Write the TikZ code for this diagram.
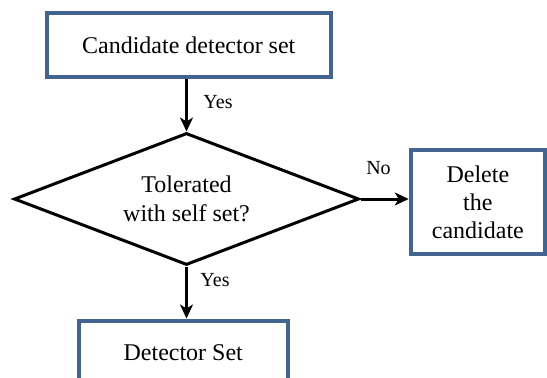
\documentclass[tikz,border=0pt]{standalone}
\usepackage{fontspec}
\setmainfont{Liberation Serif}
\usetikzlibrary{shapes.geometric,arrows.meta}
\definecolor{boxblue}{RGB}{65,100,145}
\begin{document}
\begin{tikzpicture}[x=1pt,y=-1pt,
  procbox/.style={draw=boxblue,line width=4pt,rectangle,inner sep=0pt,
    align=center,font=\fontsize{24}{28}\selectfont},
  decision/.style={draw=black,line width=3pt,diamond,aspect=2.6,inner sep=0pt,
    align=center,font=\fontsize{24}{29.5}\selectfont},
  flow/.style={draw=black,line width=3pt,-{Stealth[length=14pt,width=13pt,inset=4pt]}},
  lbl/.style={font=\fontsize{20}{24}\selectfont,inner sep=0pt}]
  \useasboundingbox (0,0) rectangle (547,378);
  \clip (0,0) rectangle (547,378);

  \node[procbox,minimum width=284.5pt,minimum height=64pt] (cand) at (188.75,45) {Candidate detector set};
  \node[decision,minimum width=345pt,minimum height=132pt] (tol) at (186.5,199) {Tolerated\\with self set?};
  \node[procbox,minimum width=134.3pt,minimum height=103.5pt] (del) at (477.9,201.8) {Delete\\the\\candidate};
  \node[procbox,minimum width=209.5pt,minimum height=65pt] (det) at (183.25,353) {Detector Set};

  \draw[flow] (cand.south -| tol.north) -- (tol.north);
  \draw[flow] (tol.east) -- (tol.east -| del.west);
  \draw[flow] (tol.south) -- (tol.south |- det.north);

  \node[lbl] (yes1) at (218,102) {Yes};
  \node[lbl] (no) at (378.5,168) {No};
  \node[lbl] (yes2) at (215,280) {Yes};
\end{tikzpicture}
\end{document}
